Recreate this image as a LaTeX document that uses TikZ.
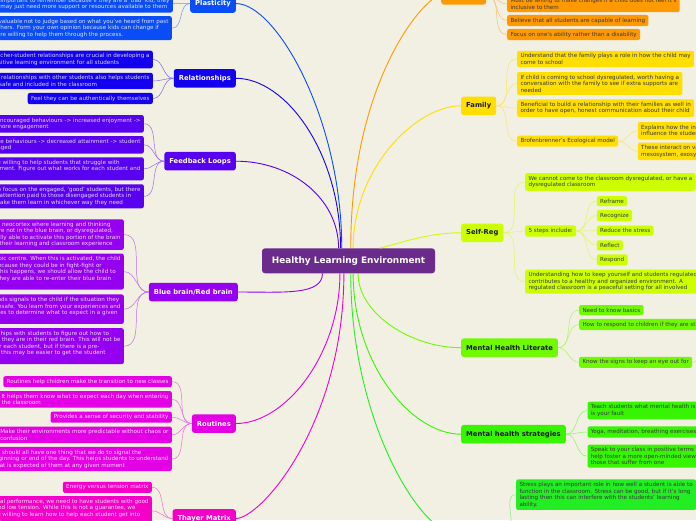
\documentclass[tikz,border=0pt]{standalone}
\usepackage{fontspec}
\setmainfont{DejaVu Sans}
\usepackage{xcolor}

\definecolor{paper}{RGB}{242,239,227}
\definecolor{hub}{RGB}{106,43,140}
\definecolor{plast}{RGB}{10,76,245}
\definecolor{relat}{RGB}{18,0,238}
\definecolor{loops}{RGB}{88,0,240}
\definecolor{brain}{RGB}{150,0,240}
\definecolor{routn}{RGB}{228,0,228}
\definecolor{thayer}{RGB}{245,0,200}
\definecolor{incl}{RGB}{255,153,0}
\definecolor{family}{RGB}{255,222,0}
\definecolor{selfreg}{RGB}{204,255,0}
\definecolor{literate}{RGB}{112,250,0}
\definecolor{strat}{RGB}{55,245,0}
\definecolor{stress}{RGB}{35,238,35}

\newcommand{\leaffont}{\fontsize{5.6}{6.5}\selectfont}
\newcommand{\branchfont}{\fontsize{6.8}{8}\selectfont\bfseries}

\tikzset{
  leaf/.style={fill=#1, text=white!85!#1, rounded corners=2pt, inner xsep=3.3pt, inner ysep=2.8pt, align=left, font=\leaffont},
  darkleaf/.style={leaf=#1, text=black!78},
  branch/.style={fill=#1, text=white, rounded corners=2.5pt, inner xsep=5pt, inner ysep=0pt, minimum height=18.5pt, font=\branchfont},
  darkbranch/.style={branch=#1, text=black!90},
  link/.style={draw=#1, line width=0.9pt},
  twig/.style={draw=#1!55!paper, line width=0.5pt},
}

\begin{document}
\begin{tikzpicture}[x=1pt,y=-1pt]
\fill[paper] (0,0) rectangle (696,520);
\useasboundingbox (0,0) rectangle (696,520);
\clip (0,0) rectangle (696,520);

% centre
\node[fill=hub, text=white, rounded corners=3pt, minimum width=173pt, minimum height=25pt, font=\fontsize{8.9}{10}\selectfont\bfseries] (hle) at (348.5,260.8) {Healthy Learning Environment};

% Plasticity
\node[branch=plast, anchor=south east] (pl) at (236,13) {Plasticity};
\node[leaf=plast, anchor=south east] (pl1) at (173,12.7) {Important to remember because if they are a `bad' kid, they\\may just need more support or resources available to them};
\node[leaf=plast, anchor=north east] (pl2) at (172,16) {It's valuable not to judge based on what you've heard from past\\teachers. Form your own opinion because kids can change if\\you're willing to help them through the process.};

% Relationships
\node[branch=relat, anchor=east] (rel) at (236,78.3) {Relationships};
\node[leaf=relat, anchor=east] (rel1) at (153,59.5) {Teacher-student relationships are crucial in developing a\\positive learning environment for all students};
\node[leaf=relat, anchor=east] (rel2) at (153,81) {Peer relationships with other students also helps students\\feel safe and included in the classroom};
\node[leaf=relat, anchor=east] (rel3) at (153,98.5) {Feel they can be authentically themselves};

% Feedback Loops
\node[branch=loops, anchor=east] (fbl) at (236,161.2) {Feedback Loops};
\node[leaf=loops, anchor=east] (fbl1) at (144,123.8) {Encouraged behaviours -> increased enjoyment ->\\more engagement};
\node[leaf=loops, anchor=east] (fbl2) at (144,144.8) {Negative behaviours -> decreased attainment -> student\\disengaged};
\node[leaf=loops, anchor=east] (fbl3) at (144,168.8) {Must be willing to help students that struggle with\\engagement. Figure out what works for each student and\\use it};
\node[leaf=loops, anchor=east] (fbl4) at (144,196.3) {We tend to focus on the engaged, `good' students, but there\\should be attention paid to those disengaged students in\\order to make them learn in whichever way they need};

% Blue brain/Red brain
\node[branch=brain, anchor=east] (bbr) at (238,292) {Blue brain/Red brain};
\node[leaf=brain, anchor=east] (bbr1) at (124,234.6) {Blue brain is the neocortex where learning and thinking\\occurs. If kids are not in the blue brain, or dysregulated,\\they won't be fully able to activate this portion of the brain\\to connect with their learning and classroom experience};
\node[leaf=brain, anchor=east] (bbr2) at (124,271.6) {Red brain is the limbic centre. When this is activated, the child\\is unable to learn because they could be in fight-fight or\\flight mode. When this happens, we should allow the child to\\calm down so that they are able to re-enter their blue brain\\state};
\node[leaf=brain, anchor=east] (bbr3) at (124,309.2) {The amygdala sends signals to the child if the situation they\\are in is safe or unsafe. You learn from your experiences and\\use these memories to determine what to expect in a given\\situation};
\node[leaf=brain, anchor=east] (bbr4) at (124,346.2) {Build strong relationships with students to figure out how to\\help them best when they are in their red brain. This will not be\\the same strategy for each student, but if there is a pre-\\existing relationship, this may be easier to get the student\\back on track};

% Routines
\node[branch=routn, anchor=east] (rtn) at (236,423.5) {Routines};
\node[leaf=routn, anchor=east] (rtn1) at (172,381.7) {Routines help children make the transition to new classes};
\node[leaf=routn, anchor=east] (rtn2) at (172,399.3) {It helps them know what to expect each day when entering\\the classroom};
\node[leaf=routn, anchor=east] (rtn3) at (172,417.2) {Provides a sense of security and stability};
\node[leaf=routn, anchor=east] (rtn4) at (172,434.8) {Make their environments more predictable without chaos or\\confusion};
\node[leaf=routn, anchor=east] (rtn5) at (172,459) {We should all have one thing that we do to signal the\\beginning or end of the day. This helps students to understand\\what is expected of them at any given moment};

% Thayer Matrix
\node[branch=thayer, anchor=north east] (thm) at (236,509) {Thayer Matrix};
\node[leaf=thayer, anchor=east] (thm1) at (152,487.3) {Energy versus tension matrix};
\node[leaf=thayer, anchor=north east] (thm2) at (152,496) {For optimal performance, we need to have students with good\\energy and low tension. While this is not a guarantee, we\\should be willing to learn how to help each student get into\\that state};

% top orange branch
\node[branch=incl, anchor=south west, minimum width=45pt] (inc) at (441,4.7) {};
\node[darkleaf=incl, anchor=south west] (inc1) at (507,12.3) {Must be willing to make changes if a child does not feel it's\\inclusive to them};
\node[darkleaf=incl, anchor=west] (inc2) at (507,20.5) {Believe that all students are capable of learning};
\node[darkleaf=incl, anchor=west] (inc3) at (507,34.5) {Focus on one's ability rather than a disability};

% Family
\node[darkbranch=family, anchor=west] (fam) at (461,105.8) {Family};
\node[darkleaf=family, anchor=west] (fam1) at (517,59) {Understand that the family plays a role in how the child may\\come to school};
\node[darkleaf=family, anchor=west] (fam2) at (517,83.5) {If child is coming to school dysregulated, worth having a\\conversation with the family to see if extra supports are\\needed};
\node[darkleaf=family, anchor=west] (fam3) at (517,108.2) {Beneficial to build a relationship with their families as well in\\order to have open, honest communication about their child};
\node[darkleaf=family, anchor=west] (fam4) at (517,141.2) {Brofenbrenner's Ecological model};
\node[darkleaf=family, anchor=west] (fam41) at (637.7,130.8) {Explains how the interactions between systems\\influence the student's development};
\node[darkleaf=family, anchor=west] (fam42) at (637.7,151.3) {These interact on various levels: microsystem,\\mesosystem, exosystem and macrosystem};

% Self-Reg
\node[darkbranch=selfreg, anchor=west] (srg) at (461,232.8) {Self-Reg};
\node[darkleaf=selfreg, anchor=west] (srg1) at (525,182) {We cannot come to the classroom dysregulated, or have a\\dysregulated classroom};
\node[darkleaf=selfreg, anchor=west] (srg2) at (525,231) {5 steps include:};
\node[darkleaf=selfreg, anchor=west] (stp1) at (596.7,201.2) {Reframe};
\node[darkleaf=selfreg, anchor=west] (stp2) at (596.7,215.5) {Recognize};
\node[darkleaf=selfreg, anchor=west] (stp3) at (596.7,230.7) {Reduce the stress};
\node[darkleaf=selfreg, anchor=west] (stp4) at (596.7,245.3) {Reflect};
\node[darkleaf=selfreg, anchor=west] (stp5) at (596.7,259.8) {Respond};
\node[darkleaf=selfreg, anchor=west] (srg3) at (525,281.7) {Understanding how to keep yourself and students regulated\\contributes to a healthy and organized environment. A\\regulated classroom is a peaceful setting for all involved};

% Mental Health Literate
\node[darkbranch=literate, anchor=west] (mhl) at (461,347.7) {Mental Health Literate};
\node[darkleaf=literate, anchor=west] (mhl1) at (579,310) {Need to know basics};
\node[darkleaf=literate, anchor=west] (mhl2) at (579,324.5) {How to respond to children if they are struggling};
\node[darkleaf=literate, anchor=west] (mhl3) at (579,362.3) {Know the signs to keep an eye out for};
\coordinate (mhlx) at (706,357);

% Mental health strategies
\node[darkbranch=strat, anchor=west] (mhs) at (461,434.2) {Mental health strategies};
\node[darkleaf=strat, anchor=west] (mhs1) at (587.3,410.5) {Teach students what mental health is. It is not something that\\is your fault};
\node[darkleaf=strat, anchor=west] (mhs2) at (587.3,432) {Yoga, meditation, breathing exercises, etc.};
\node[darkleaf=strat, anchor=west] (mhs3) at (587.3,456.2) {Speak to your class in positive terms about mental illness to\\help foster a more open-minded view of\\those that suffer from one};

% stress (branch below the frame)
\coordinate (strw) at (452,532);
\coordinate (stre) at (505,532);
\node[darkleaf=stress, anchor=west] (str1) at (516,494.7) {Stress plays an important role in how well a student is able to\\function in the classroom. Stress can be good, but if it's long\\lasting then this can interfere with the students' learning\\ability.};

% links to the centre
\draw[link=plast] (pl.east) .. controls +(40,0) and +(0,-130) .. (hle.118);
\draw[link=relat] (rel.east) .. controls +(50,0) and +(0,-95) .. (hle.122);
\draw[link=loops] (fbl.east) .. controls +(55,0) and +(0,-50) .. (hle.128);
\draw[link=brain] (bbr.east) .. controls +(45,0) and +(0,22) .. (hle.206);
\draw[link=routn] (rtn.east) .. controls +(50,0) and +(0,80) .. (hle.236);
\draw[link=thayer] (thm.east) .. controls +(25,0) and +(0,150) .. (hle.250);
\draw[link=incl] (inc.west) .. controls +(-15,0) and +(0,-170) .. (hle.80);
\draw[link=family] (fam.west) .. controls +(-45,0) and +(0,-80) .. (hle.70);
\draw[link=selfreg] (srg.west) .. controls +(-30,0) and +(30,-8) .. (hle.22);
\draw[link=literate] (mhl.west) .. controls +(-50,0) and +(0,40) .. (hle.307);
\draw[link=strat] (mhs.west) .. controls +(-50,0) and +(0,90) .. (hle.290);
\draw[link=stress] (strw) .. controls +(-30,0) and +(0,150) .. (hle.280);

% twigs, left side
\draw[twig=plast] (pl.west) to[out=180,in=0] (pl1.east);
\draw[twig=plast] (pl.west) to[out=180,in=0] (pl2.east);
\draw[twig=relat] (rel.west) to[out=180,in=0] (rel1.east);
\draw[twig=relat] (rel.west) to[out=180,in=0] (rel2.east);
\draw[twig=relat] (rel.west) to[out=180,in=0] (rel3.east);
\draw[twig=loops] (fbl.west) to[out=180,in=0] (fbl1.east);
\draw[twig=loops] (fbl.west) to[out=180,in=0] (fbl2.east);
\draw[twig=loops] (fbl.west) to[out=180,in=0] (fbl3.east);
\draw[twig=loops] (fbl.west) to[out=180,in=0] (fbl4.east);
\draw[twig=brain] (bbr.west) to[out=180,in=0] (bbr1.east);
\draw[twig=brain] (bbr.west) to[out=180,in=0] (bbr2.east);
\draw[twig=brain] (bbr.west) to[out=180,in=0] (bbr3.east);
\draw[twig=brain] (bbr.west) to[out=180,in=0] (bbr4.east);
\draw[twig=routn] (rtn.west) to[out=180,in=0] (rtn1.east);
\draw[twig=routn] (rtn.west) to[out=180,in=0] (rtn2.east);
\draw[twig=routn] (rtn.west) to[out=180,in=0] (rtn3.east);
\draw[twig=routn] (rtn.west) to[out=180,in=0] (rtn4.east);
\draw[twig=routn] (rtn.west) to[out=180,in=0] (rtn5.east);
\draw[twig=thayer] (thm.west) to[out=180,in=0] (thm1.east);
\draw[twig=thayer] (thm.west) to[out=180,in=0] (thm2.east);

% twigs, right side
\draw[twig=incl] (inc.east) to[out=0,in=180] (inc1.west);
\draw[twig=incl] (inc.east) to[out=0,in=180] (inc2.west);
\draw[twig=incl] (inc.east) to[out=0,in=180] (inc3.west);
\draw[twig=family] (fam.east) to[out=0,in=180] (fam1.west);
\draw[twig=family] (fam.east) to[out=0,in=180] (fam2.west);
\draw[twig=family] (fam.east) to[out=0,in=180] (fam3.west);
\draw[twig=family] (fam.east) to[out=0,in=180] (fam4.west);
\draw[twig=family] (fam4.east) to[out=0,in=180] (fam41.west);
\draw[twig=family] (fam4.east) to[out=0,in=180] (fam42.west);
\draw[twig=selfreg] (srg.east) to[out=0,in=180] (srg1.west);
\draw[twig=selfreg] (srg.east) to[out=0,in=180] (srg2.west);
\draw[twig=selfreg] (srg.east) to[out=0,in=180] (srg3.west);
\draw[twig=selfreg] (srg2.east) to[out=0,in=180] (stp1.west);
\draw[twig=selfreg] (srg2.east) to[out=0,in=180] (stp2.west);
\draw[twig=selfreg] (srg2.east) to[out=0,in=180] (stp3.west);
\draw[twig=selfreg] (srg2.east) to[out=0,in=180] (stp4.west);
\draw[twig=selfreg] (srg2.east) to[out=0,in=180] (stp5.west);
\draw[twig=literate] (mhl.east) to[out=0,in=180] (mhl1.west);
\draw[twig=literate] (mhl.east) to[out=0,in=180] (mhl2.west);
\draw[twig=literate] (mhl.east) to[out=0,in=180] (mhl3.west);
\draw[twig=literate] (mhl3.east) to[out=0,in=180] (mhlx);
\draw[twig=strat] (mhs.east) to[out=0,in=180] (mhs1.west);
\draw[twig=strat] (mhs.east) to[out=0,in=180] (mhs2.west);
\draw[twig=strat] (mhs.east) to[out=0,in=180] (mhs3.west);
\draw[twig=stress] (stre) to[out=0,in=180] (str1.west);
\end{tikzpicture}
\end{document}
